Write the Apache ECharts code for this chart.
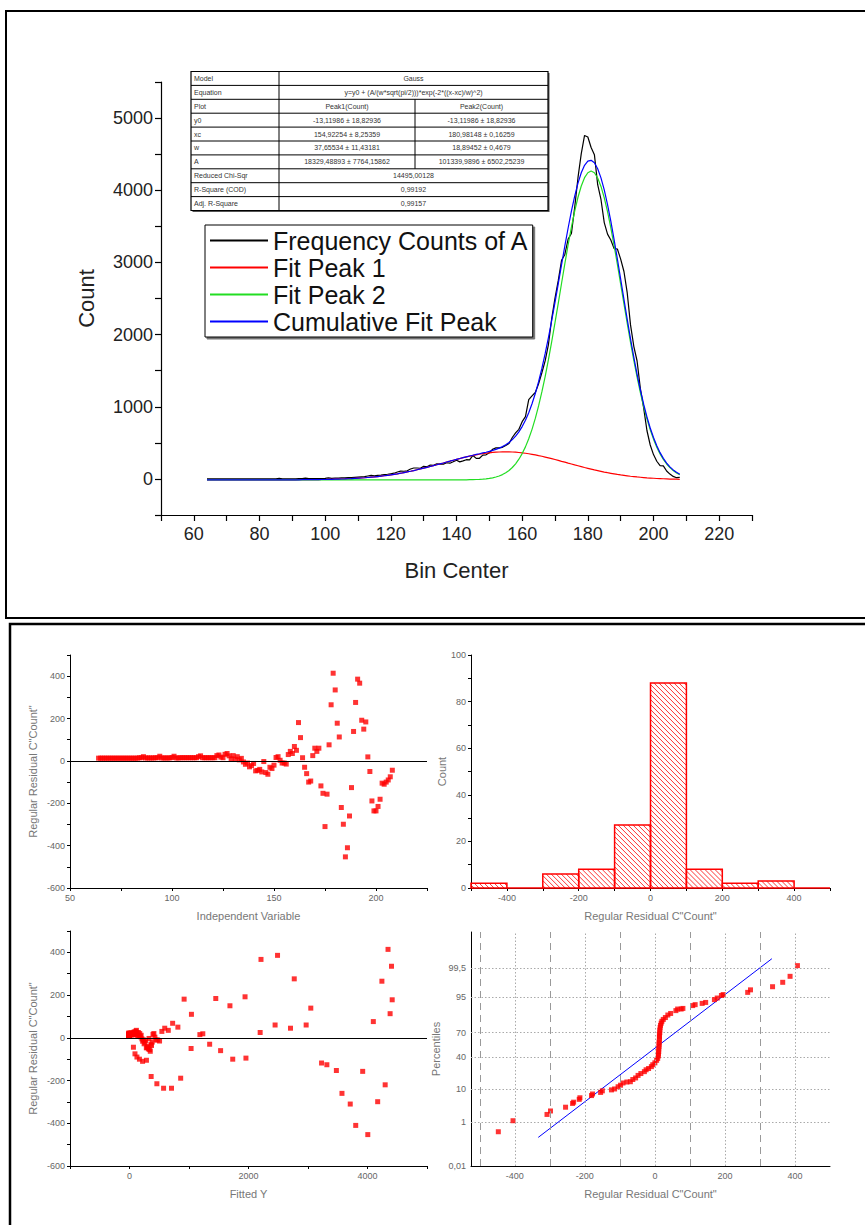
<!DOCTYPE html>
<html>
<head>
<meta charset="utf-8">
<script src="https://cdn.jsdelivr.net/npm/echarts@6/dist/echarts.min.js"></script>
<style>
  html, body { margin: 0; padding: 0; background: #fff; }
  #chart { width: 865px; height: 1225px; }
</style>
</head>
<body>
<div id="chart"></div>
<script>
// ---- Histogram of A and its two-peak Gauss fit ----
const binCenter = [
  64,65,66,67,68,69,70,71,72,73,74,75,76,77,78,79,80,81,82,83,
  84,85,86,87,88,89,90,91,92,93,94,95,96,97,98,99,100,101,102,103,
  104,105,106,107,108,109,110,111,112,113,114,115,116,117,118,119,120,121,122,123,
  124,125,126,127,128,129,130,131,132,133,134,135,136,137,138,139,140,141,142,143,
  144,145,146,147,148,149,150,151,152,153,154,155,156,157,158,159,160,161,162,163,
  164,165,166,167,168,169,170,171,172,173,174,175,176,177,178,179,180,181,182,183,
  184,185,186,187,188,189,190,191,192,193,194,195,196,197,198,199,200,201,202,203,
  204,205,206,207,208
];
const countsA = [
  0,0,0,0,0,0,0,0,0,0,0,0,0,0,0,0,0,0,0,0,
  2,2,8,2,2,2,2,2,3,4,
  11,3,4,4,5,6,8,15,8,10,
  12,14,15,17,19,22,25,28,31,40,
  48,43,48,53,59,65,72,79,96,107,
  106,112,137,151,151,148,174,168,192,189,
  208,204,205,224,218,237,259,236,250,266,
  265,325,284,286,330,334,362,411,430,430,
  438,463,490,574,637,687,793,863,1099,1151,
  1198,1317,1471,1635,1862,2221,2507,2751,3029,3110,
  3324,3400,3762,4174,4507,4759,4738,4593,4493,4077,
  3872,3552,3392,3311,3191,3186,3045,2874,2577,2134,
  1838,1634,1251,985,671,470,337,245,183,180,
  110,67,35,17,22
];
const fitPeak1 = [
  -13,-13,-13,-13,-13,-13,-13,-13,-13,-13,-13,-13,-13,-13,-13,-13,-13,-13,-13,-13,
  -13,-13,-12,-12,-12,-12,-12,-12,-11,-11,
  -11,-11,-10,-10,-9,-8,-8,-7,-6,-4,
  -3,-1,0,2,4,7,10,13,16,20,
  24,28,33,38,44,50,57,64,71,79,
  88,97,106,116,127,138,149,160,172,184,
  196,209,221,234,246,259,271,282,294,305,
  315,325,334,342,350,357,362,367,371,373,
  375,375,375,373,370,366,361,356,349,341,
  333,323,314,303,292,281,269,257,244,232,
  219,207,194,182,170,158,147,136,125,115,
  105,95,86,78,70,62,55,49,43,37,
  32,27,23,19,15,12,9,6,4,2,
  0,-2,-3,-4,-6
];
const fitPeak2 = [
  -13,-13,-13,-13,-13,-13,-13,-13,-13,-13,-13,-13,-13,-13,-13,-13,-13,-13,-13,-13,
  -13,-13,-13,-13,-13,-13,-13,-13,-13,-13,
  -13,-13,-13,-13,-13,-13,-13,-13,-13,-13,
  -13,-13,-13,-13,-13,-13,-13,-13,-13,-13,
  -13,-13,-13,-13,-13,-13,-13,-13,-13,-13,
  -13,-13,-13,-13,-13,-13,-13,-13,-13,-13,
  -13,-13,-13,-13,-13,-13,-13,-12,-12,-12,
  -11,-10,-8,-6,-3,1,7,15,26,40,
  60,85,117,158,209,273,351,444,556,687,
  838,1011,1205,1419,1652,1902,2165,2437,2711,2983,
  3245,3490,3711,3903,4059,4174,4243,4266,4242,4170,
  4053,3896,3703,3480,3234,2972,2700,2426,2155,1892,
  1643,1410,1196,1003,831,681,551,440,347,270,
  207,156,115,83,59
];
const cumulativeFit = [
  -13,-13,-13,-13,-13,-13,-13,-13,-13,-13,-13,-13,-13,-13,-13,-13,-13,-13,-13,-13,
  -13,-13,-12,-12,-12,-12,-12,-12,-12,-11,
  -11,-11,-10,-10,-9,-8,-8,-7,-6,-4,
  -3,-1,0,2,4,7,10,13,16,20,
  24,28,33,38,44,50,57,64,71,79,
  88,97,106,116,127,138,149,160,172,184,
  196,209,221,234,246,259,271,283,295,306,
  317,328,339,349,360,370,382,395,410,427,
  448,473,505,544,592,652,725,813,918,1041,
  1183,1347,1531,1735,1957,2196,2447,2706,2969,3228,
  3477,3710,3919,4098,4242,4345,4403,4415,4380,4297,
  4171,4005,3802,3571,3317,3047,2769,2488,2210,1942,
  1688,1450,1232,1035,860,706,573,460,364,285,
  220,167,125,92,66
];
const residuals = [
  13,13,13,13,13,13,13,13,13,13,13,13,13,13,13,13,13,13,13,13,
  15,15,20,14,14,14,14,14,15,15,
  22,14,14,14,14,14,16,22,14,14,
  15,15,15,15,15,15,15,15,15,20,
  24,15,15,15,15,15,15,15,25,28,
  18,15,31,35,24,10,25,8,20,5,
  12,-5,-16,-10,-28,-22,-12,-47,-45,-40,
  -52,-3,-55,-63,-30,-36,-20,16,20,3,
  -10,-10,-15,30,45,35,68,50,181,110,
  15,-30,-60,-100,-95,25,60,45,60,-118,
  -153,-310,-157,76,265,414,335,178,113,-220,
  -299,-453,-410,-260,-126,139,276,386,367,192,
  150,184,19,-50,-189,-236,-236,-215,-181,-105,
  -110,-100,-90,-75,-44
];

// ---- Residual histogram ----
const histEdges = [-500,-400,-300,-200,-100,0,100,200,300,400,500];
const histCounts = [2,0,6,8,27,88,8,2,3,0];

// ---- Normal probability plot of the residuals ----
const probX = [-447,-405,-308,-298,-255,-235,-232,-216,-214,-181,-178,-155,-150,-124,-115,
  -105,-98,-91,-80,-70,-63,-55,-48,-40,-30,-25,-18,-10,-6,0,5,8,10,10,11,
  11,12,12,12,13,13,13,14,14,15,16,18,20,24,30,37,45,60,65,75,
  80,108,115,135,145,170,178,190,195,265,273,336,365,386,407];
const probZ = [-2.63,-2.28,-2.08,-1.97,-1.85,-1.73,-1.69,-1.60,-1.55,-1.48,-1.43,-1.38,-1.33,-1.30,-1.27,
  -1.20,-1.15,-1.08,-1.05,-1.04,-0.97,-0.92,-0.84,-0.78,-0.72,-0.66,-0.62,-0.56,-0.50,-0.44,-0.36,-0.30,-0.22,-0.15,-0.08,
  0,0.08,0.15,0.22,0.30,0.38,0.45,0.52,0.60,0.68,0.75,0.82,0.88,0.94,1.00,1.08,1.13,1.22,1.27,1.27,
  1.29,1.38,1.41,1.45,1.48,1.57,1.62,1.70,1.73,1.80,1.88,1.98,2.12,2.31,2.65];
const refLineX = [-333, 334];
const refLineZ = [-2.81, 2.87];
const percentileLabels = ['0,01','1','10','40','70','95','99,5'];
const percentileZ = [-3.719,-2.326,-1.282,-0.253,0.524,1.645,2.576];
const majorGridX = [-400,-200,0,200,400];
const minorGridX = [-500,-300,-100,100,300];

// ---- Fit report table ----
const tableLabels = ['Model','Equation','Plot','y0','xc','w','A','Reduced Chi-Sqr','R-Square (COD)','Adj. R-Square'];
const tablePeak1 = ['Gauss','y=y0 + (A/(w*sqrt(pi/2)))*exp(-2*((x-xc)/w)^2)','Peak1(Count)',
  '-13,11986 ± 18,82936','154,92254 ± 8,25359','37,65534 ± 11,43181','18329,48893 ± 7764,15862',
  '14495,00128','0,99192','0,99157'];
const tablePeak2 = [null,null,'Peak2(Count)',
  '-13,11986 ± 18,82936','180,98148 ± 0,16259','18,89452 ± 0,4679','101339,9896 ± 6502,25239',
  null,null,null];

const seriesNames = ['Frequency Counts of A','Fit Peak 1','Fit Peak 2','Cumulative Fit Peak'];
const seriesColors = ['#000000','#ff0000','#22dd22','#0000ff'];

const FONT = 'Arial, "Liberation Sans", sans-serif';

// ---------------------------------------------------------------
const chart = echarts.init(document.getElementById('chart'), null, { renderer: 'svg', width: 865, height: 1225 });

function pairs(xs, ys) { return xs.map((x, i) => [x, ys[i]]); }

function smallAxis(extra) {
  return Object.assign({
    type: 'value',
    axisLine: { show: true, onZero: false, lineStyle: { color: '#000', width: 1 } },
    axisTick: { show: true, length: 3, lineStyle: { color: '#000' } },
    axisLabel: { fontSize: 9, color: '#666', fontFamily: FONT, margin: 5 },
    splitLine: { show: false },
    nameLocation: 'middle',
    nameTextStyle: { fontSize: 11, color: '#777', fontFamily: FONT }
  }, extra);
}
function every(step) { return v => (Math.round(v) % step === 0 ? String(v) : ''); }
function percentileName(v) {
  let best = 0;
  percentileZ.forEach((z, i) => { if (Math.abs(z - v) < Math.abs(percentileZ[best] - v)) best = i; });
  return Math.abs(percentileZ[best] - v) < 0.01 ? percentileLabels[best] : '';
}

// Fit report table as graphic elements
function buildTable() {
  const x0 = 191, y0 = 71.5, rowH = 13.9;
  const colX = [191, 279, 415, 548];
  const h = rowH * tableLabels.length;
  const els = [];
  const txt = (x, y, t, align) => ({
    type: 'text', x: x, y: y, silent: true,
    style: { text: t, fill: '#333', fontSize: 7, fontFamily: FONT,
      align: align, verticalAlign: 'middle', textAlign: align, textVerticalAlign: 'middle' }
  });
  const ln = (a, b, c, d, w) => ({ type: 'line', silent: true,
    shape: { x1: a, y1: b, x2: c, y2: d }, style: { stroke: '#000', lineWidth: w || 1 } });
  els.push({ type: 'rect', silent: true, shape: { x: x0 + 1.5, y: y0 + 1.5, width: colX[3] - x0, height: h },
    style: { fill: '#555' } });
  els.push({ type: 'rect', silent: true, shape: { x: x0, y: y0, width: colX[3] - x0, height: h },
    style: { fill: '#fff', stroke: '#000', lineWidth: 1.2 } });
  for (let r = 1; r < tableLabels.length; r++) els.push(ln(x0, y0 + r * rowH, colX[3], y0 + r * rowH));
  els.push(ln(colX[1], y0, colX[1], y0 + h));
  els.push(ln(colX[2], y0 + 2 * rowH, colX[2], y0 + 7 * rowH));
  tableLabels.forEach((lab, r) => {
    const cy = y0 + (r + 0.5) * rowH;
    els.push(txt(x0 + 3, cy, lab, 'left'));
    if (tablePeak2[r] === null) {
      els.push(txt((colX[1] + colX[3]) / 2, cy, tablePeak1[r], 'center'));
    } else {
      els.push(txt((colX[1] + colX[2]) / 2, cy, tablePeak1[r], 'center'));
      els.push(txt((colX[2] + colX[3]) / 2, cy, tablePeak2[r], 'center'));
    }
  });
  return { type: 'group', children: els, z: 100 };
}

// Hatched histogram bar
function renderHistBar(params, api) {
  const lo = api.value(0), hi = api.value(1), cnt = api.value(2);
  const pTop = api.coord([lo, cnt]);
  const pBot = api.coord([hi, 0]);
  const x0 = pTop[0], y0 = pTop[1];
  const w = pBot[0] - x0, h = pBot[1] - y0;
  const children = [];
  const step = 5;
  for (let c = -w + step / 2; c < h; c += step) {
    const u0 = Math.max(0, -c), u1 = Math.min(w, h - c);
    if (u1 > u0) {
      children.push({ type: 'line', silent: true,
        shape: { x1: x0 + u0, y1: y0 + u0 + c, x2: x0 + u1, y2: y0 + u1 + c },
        style: { stroke: '#ff0000', lineWidth: 0.8 } });
    }
  }
  children.push({ type: 'rect', shape: { x: x0, y: y0, width: w, height: h },
    style: { fill: 'none', stroke: '#ff0000', lineWidth: 1.5 } });
  return { type: 'group', children: children };
}

const histData = histCounts.map((c, i) => [histEdges[i], histEdges[i + 1], c]);

const zeroLine = {
  silent: true, symbol: ['none', 'none'], animation: false,
  label: { show: false },
  lineStyle: { color: '#000', width: 1, type: 'solid' },
  data: [{ yAxis: 0 }]
};

const option = {
  animation: false,
  backgroundColor: '#fff',
  textStyle: { fontFamily: FONT },
  grid: [
    { left: 161, top: 82, width: 591, height: 433 },
    { left: 70, top: 655, width: 357, height: 233 },
    { left: 471, top: 655, width: 359, height: 233 },
    { left: 70, top: 931, width: 357, height: 235 },
    { left: 471, top: 932, width: 359, height: 234 }
  ],
  legend: {
    data: seriesNames,
    orient: 'vertical', left: 205, top: 225,
    itemWidth: 58, itemHeight: 14, itemGap: 2,
    padding: [3, 4, 3, 4],
    borderColor: '#000', borderWidth: 1,
    backgroundColor: '#fff',
    shadowColor: 'rgba(0,0,0,0.55)', shadowOffsetX: 2, shadowOffsetY: 2, shadowBlur: 0,
    itemStyle: { opacity: 0 },
    textStyle: { fontSize: 25, color: '#111', fontFamily: FONT },
    selectedMode: false
  },
  xAxis: [
    {
      type: 'value', gridIndex: 0, min: 50, max: 230, interval: 10,
      axisLine: { show: true, onZero: false, lineStyle: { color: '#000', width: 1.2 } },
      axisTick: { show: true, length: 6, lineStyle: { color: '#000', width: 1.2 } },
      axisLabel: { fontSize: 18, color: '#222', fontFamily: FONT, margin: 10, formatter: v => ((v - 60) % 20 === 0 ? String(v) : '') },
      splitLine: { show: false },
      name: 'Bin Center', nameLocation: 'middle', nameGap: 44,
      nameTextStyle: { fontSize: 22, color: '#222', fontFamily: FONT }
    },
    smallAxis({ gridIndex: 1, min: 50, max: 225, interval: 25, name: 'Independent Variable', nameGap: 22,
      axisLabel: { fontSize: 9, color: '#666', fontFamily: FONT, margin: 5, formatter: every(50) } }),
    smallAxis({ gridIndex: 2, min: -500, max: 500, interval: 100, name: 'Regular Residual C"Count"', nameGap: 22,
      axisLabel: { fontSize: 9, color: '#666', fontFamily: FONT, margin: 5, formatter: every(200) } }),
    smallAxis({ gridIndex: 3, min: -1000, max: 5000, interval: 1000, name: 'Fitted Y', nameGap: 22,
      axisLabel: { fontSize: 9, color: '#666', fontFamily: FONT, margin: 5, formatter: every(2000) } }),
    smallAxis({ gridIndex: 4, min: -525, max: 500, interval: 25, name: 'Regular Residual C"Count"', nameGap: 22,
      axisTick: { show: false },
      axisLabel: { fontSize: 9, color: '#666', fontFamily: FONT, margin: 5, formatter: every(200) } })
  ],
  yAxis: [
    {
      type: 'value', gridIndex: 0, min: -500, max: 5500, interval: 500,
      axisLine: { show: true, onZero: false, lineStyle: { color: '#000', width: 1.2 } },
      axisTick: { show: true, length: 6, lineStyle: { color: '#000', width: 1.2 } },
      axisLabel: { fontSize: 18, color: '#222', fontFamily: FONT, margin: 8, formatter: v => (v % 1000 === 0 ? String(v) : '') },
      splitLine: { show: false },
      name: 'Count', nameLocation: 'middle', nameGap: 64, nameRotate: 90,
      nameTextStyle: { fontSize: 22, color: '#222', fontFamily: FONT }
    },
    smallAxis({ gridIndex: 1, min: -600, max: 500, interval: 100, name: 'Regular Residual C"Count"', nameGap: 32,
      axisLabel: { fontSize: 9, color: '#666', fontFamily: FONT, margin: 5, formatter: every(200) } }),
    smallAxis({ gridIndex: 2, min: 0, max: 100, interval: 10, name: 'Count', nameGap: 22,
      axisLabel: { fontSize: 9, color: '#666', fontFamily: FONT, margin: 5, formatter: every(20) } }),
    smallAxis({ gridIndex: 3, min: -600, max: 500, interval: 100, name: 'Regular Residual C"Count"', nameGap: 32,
      axisLabel: { fontSize: 9, color: '#666', fontFamily: FONT, margin: 5, formatter: every(200) } }),
    smallAxis({ gridIndex: 4, min: -3.719, max: 3.719, name: 'Percentiles', nameGap: 30,
      axisTick: { show: false },
      axisLabel: { show: true, fontSize: 9, color: '#666', fontFamily: FONT, margin: 5,
        customValues: percentileZ, formatter: percentileName } })
  ],
  series: [
    { name: seriesNames[0], type: 'line', xAxisIndex: 0, yAxisIndex: 0, symbol: 'none', z: 2,
      color: seriesColors[0], lineStyle: { width: 1.2, color: seriesColors[0] }, data: pairs(binCenter, countsA) },
    { name: seriesNames[1], type: 'line', xAxisIndex: 0, yAxisIndex: 0, symbol: 'none', z: 3,
      color: seriesColors[1], lineStyle: { width: 1.2, color: seriesColors[1] }, data: pairs(binCenter, fitPeak1) },
    { name: seriesNames[2], type: 'line', xAxisIndex: 0, yAxisIndex: 0, symbol: 'none', z: 4,
      color: seriesColors[2], lineStyle: { width: 1.2, color: seriesColors[2] }, data: pairs(binCenter, fitPeak2) },
    { name: seriesNames[3], type: 'line', xAxisIndex: 0, yAxisIndex: 0, symbol: 'none', z: 5,
      color: seriesColors[3], lineStyle: { width: 1.2, color: seriesColors[3] }, data: pairs(binCenter, cumulativeFit) },

    { name: 'Residual vs X', type: 'scatter', xAxisIndex: 1, yAxisIndex: 1, symbol: 'rect', symbolSize: 5,
      itemStyle: { color: '#ff0000' }, data: pairs(binCenter, residuals), markLine: zeroLine },

    { name: 'Residual histogram', type: 'custom', xAxisIndex: 2, yAxisIndex: 2,
      renderItem: renderHistBar, encode: { x: [0, 1], y: 2 }, data: histData },

    { name: 'Residual vs fitted', type: 'scatter', xAxisIndex: 3, yAxisIndex: 3, symbol: 'rect', symbolSize: 5,
      itemStyle: { color: '#ff0000' }, data: pairs(cumulativeFit, residuals), markLine: zeroLine },

    { name: 'Reference line', type: 'line', xAxisIndex: 4, yAxisIndex: 4, symbol: 'none', z: 3,
      lineStyle: { color: '#0000ff', width: 1 }, data: pairs(refLineX, refLineZ),
      markLine: {
        silent: true, symbol: ['none', 'none'], animation: false, z: 1,
        label: { show: false },
        lineStyle: { color: '#aaa', width: 1, type: [1.5, 2] },
        data: percentileZ.slice(1).map(z => ({ yAxis: z }))
      } },
    { name: 'Grid lines', type: 'line', xAxisIndex: 4, yAxisIndex: 4, symbol: 'none', z: 1, data: [],
      markLine: {
        silent: true, symbol: ['none', 'none'], animation: false,
        label: { show: false },
        data: majorGridX.map(v => ({ xAxis: v, lineStyle: { color: '#aaa', width: 1, type: [1.5, 2] } }))
          .concat(minorGridX.map(v => ({ xAxis: v, lineStyle: { color: '#999', width: 1, type: [7, 5] } })))
      } },
    { name: 'Residual percentiles', type: 'scatter', xAxisIndex: 4, yAxisIndex: 4, symbol: 'rect', symbolSize: 5, z: 4,
      itemStyle: { color: '#ff0000' }, data: pairs(probX, probZ) }
  ],
  graphic: [
    { type: 'rect', silent: true, shape: { x: 6, y: 11, width: 900, height: 607 },
      style: { fill: 'none', stroke: '#000', lineWidth: 2 } },
    { type: 'rect', silent: true, shape: { x: 10, y: 624, width: 900, height: 700 },
      style: { fill: 'none', stroke: '#000', lineWidth: 2.5 } },
    buildTable()
  ]
};

chart.setOption(option);
</script>
</body>
</html>
